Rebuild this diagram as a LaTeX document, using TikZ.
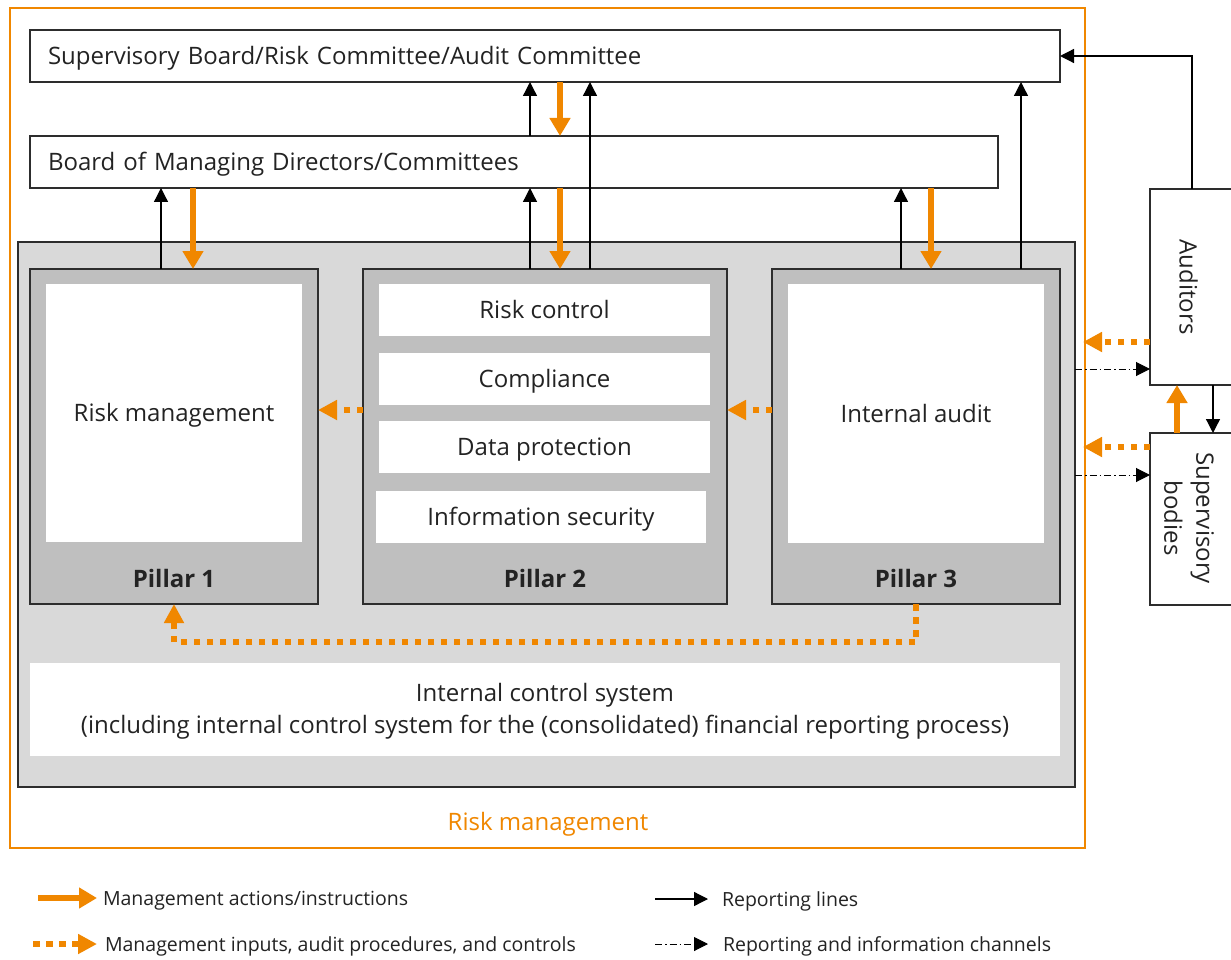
\documentclass[tikz,border=0pt]{standalone}
\usepackage{fontspec}
\setmainfont{Open Sans}
\usetikzlibrary{arrows.meta}
\definecolor{org}{RGB}{240,135,0}
\definecolor{lg}{RGB}{217,217,217}
\definecolor{dg}{RGB}{191,191,191}
\definecolor{bd}{RGB}{45,45,45}
\definecolor{tx}{RGB}{35,35,35}
\begin{document}
\begin{tikzpicture}[x=1pt,y=-1pt,
  every node/.style={inner sep=0pt, outer sep=0pt, text=tx},
  multifont/.style={font=\fontsize{24}{32}\selectfont},
  mainfont/.style={multifont, text height=17pt, text depth=0pt},
  legfont/.style={font=\fontsize{19.5}{24}\selectfont, text height=14pt, text depth=0pt},
  sz/.style 2 args={anchor=north west, minimum width=#1pt, minimum height=#2pt},
  box/.style={draw=bd, line width=1.2pt, fill=white, mainfont},
  pill/.style={draw=bd, line width=1.2pt, fill=dg},
  wbox/.style={fill=white, mainfont},
  plabel/.style={font=\fontsize{24}{28}\selectfont\bfseries},
  rep/.style={draw=black, line width=1.3pt, -{Triangle[length=14pt,width=14pt]}},
  act/.style={draw=org, line width=5.5pt, -{Triangle[length=18pt,width=20pt]}},
  inp/.style={draw=org, line width=6pt, dash pattern=on 6.5pt off 6.5pt, -{Triangle[length=19pt,width=19pt]}},
  chan/.style={draw=black, line width=1pt, dash pattern=on 7pt off 3pt on 1.5pt off 3pt, -{Triangle[length=14pt,width=14pt]}}
]
\useasboundingbox (0,0) rectangle (1231,960);
\fill[white] (0,0) rectangle (1231,960);

% outer risk management frame
\node[draw=org, line width=1.2pt, sz={1075}{840}] (outer) at (10,8) {};
\node[text=org, mainfont] (rmlabel) at (548,822) {Risk management};

% boards
\node[box, anchor=north west, text width=994pt, inner xsep=18pt, minimum height=52pt, align=left] (sb) at (30,30) {Supervisory Board/Risk Committee/Audit Committee};
\node[box, anchor=north west, text width=932pt, inner xsep=18pt, minimum height=52pt, align=left] (bm) at (30,136) {Board of Managing Directors/Committees};

% big gray area
\node[fill=lg, draw=bd, line width=1.2pt, sz={1057}{545}] (rm) at (18,242) {};

% pillars
\node[pill, sz={288}{335}] (p1) at (30,269) {};
\node[pill, sz={364}{335}] (p2) at (363,269) {};
\node[pill, sz={288}{335}] (p3) at (772,269) {};

\node[wbox, sz={256}{258}] (w1) at (46,284) {Risk management};
\node[wbox, sz={331}{52}] (rc) at (379,284) {Risk control};
\node[wbox, sz={331}{52}] (co) at (379,353) {Compliance};
\node[wbox, sz={331}{52}] (dp) at (379,421) {Data protection};
\node[wbox, sz={330}{52}] (is) at (376,491) {Information security};
\node[wbox, sz={256}{259}] (w3) at (788,284) {Internal audit};

\node[plabel] (pl1) at (174,578) {Pillar 1};
\node[plabel] (pl2) at (545,578) {Pillar 2};
\node[plabel] (pl3) at (916,578) {Pillar 3};

% internal control system
\node[fill=white, sz={1030}{93}] (icsbox) at (30,663) {};
\node[multifont, align=center, yshift=-2pt] (ics) at (icsbox.center) {Internal control system\\(including internal control system for the (consolidated) financial reporting process)};

% external boxes
\node[draw=bd, line width=1.2pt, fill=white, sz={100}{196}] (aud) at (1150,189) {};
\node[mainfont, rotate=-90] (audt) at (1188,287) {Auditors};
\node[draw=bd, line width=1.2pt, fill=white, sz={100}{172}] (sup) at (1150,433) {};
\node[multifont, rotate=-90, align=center] (supt) at (1189,518) {Supervisory\\bodies};

% reporting / management arrows
\draw[rep] (530,0 |- bm.north) -- (530,0 |- sb.south);
\draw[act] (560,0 |- sb.south) -- (560,0 |- bm.north);

\draw[rep] (161,0 |- p1.north) -- (161,0 |- bm.south);
\draw[act] (193,0 |- bm.south) -- (193,0 |- p1.north);

\draw[rep] (530,0 |- p2.north) -- (530,0 |- bm.south);
\draw[act] (560,0 |- bm.south) -- (560,0 |- p2.north);
\draw[rep] (590,0 |- p2.north) -- (590,0 |- sb.south);

\draw[rep] (901,0 |- p3.north) -- (901,0 |- bm.south);
\draw[act] (931,0 |- bm.south) -- (931,0 |- p3.north);
\draw[rep] (1021,0 |- p3.north) -- (1021,0 |- sb.south);

% inputs between pillars
\draw[inp] (p2.west |- 0,410) -- (p1.east |- 0,410);
\draw[inp] (p3.west |- 0,410) -- (p2.east |- 0,410);
\draw[inp] (p3.south) -- ++(0,38) -| (p1.south);

% auditors / supervisory bodies
\draw[rep] (1192,0 |- aud.north) |- (sb.east);
\coordinate (ia) at (1083,342);
\coordinate (ib) at (1083,447);
\draw[inp] (aud.west |- ia) -- (ia);
\draw[inp] (sup.west |- ib) -- (ib);
\draw[chan] (rm.east |- 0,369) -- (aud.west |- 0,369);
\draw[chan] (rm.east |- 0,475) -- (sup.west |- 0,475);
\draw[rep] (1213,0 |- aud.south) -- (1213,0 |- sup.north);
\draw[act] (1177,0 |- sup.north) -- (1177,0 |- aud.south);

% legend
\coordinate (l1a) at (38,898);  \coordinate (l1b) at (97,898);
\coordinate (l2a) at (33,944);  \coordinate (l2b) at (97,944);
\coordinate (l3a) at (655,899); \coordinate (l3b) at (708,899);
\coordinate (l4a) at (655,944); \coordinate (l4b) at (708,944);
\draw[act] (l1a) -- (l1b);
\draw[inp] (l2a) -- (l2b);
\draw[rep] (l3a) -- (l3b);
\draw[chan] (l4a) -- (l4b);
\node[legfont, anchor=west] (lt1) at (103,898) {Management actions/instructions};
\node[legfont, anchor=west] (lt2) at (105,944) {Management inputs, audit procedures, and controls};
\node[legfont, anchor=west] (lt3) at (722,899) {Reporting lines};
\node[legfont, anchor=west] (lt4) at (723,944) {Reporting and information channels};
\end{tikzpicture}
\end{document}
